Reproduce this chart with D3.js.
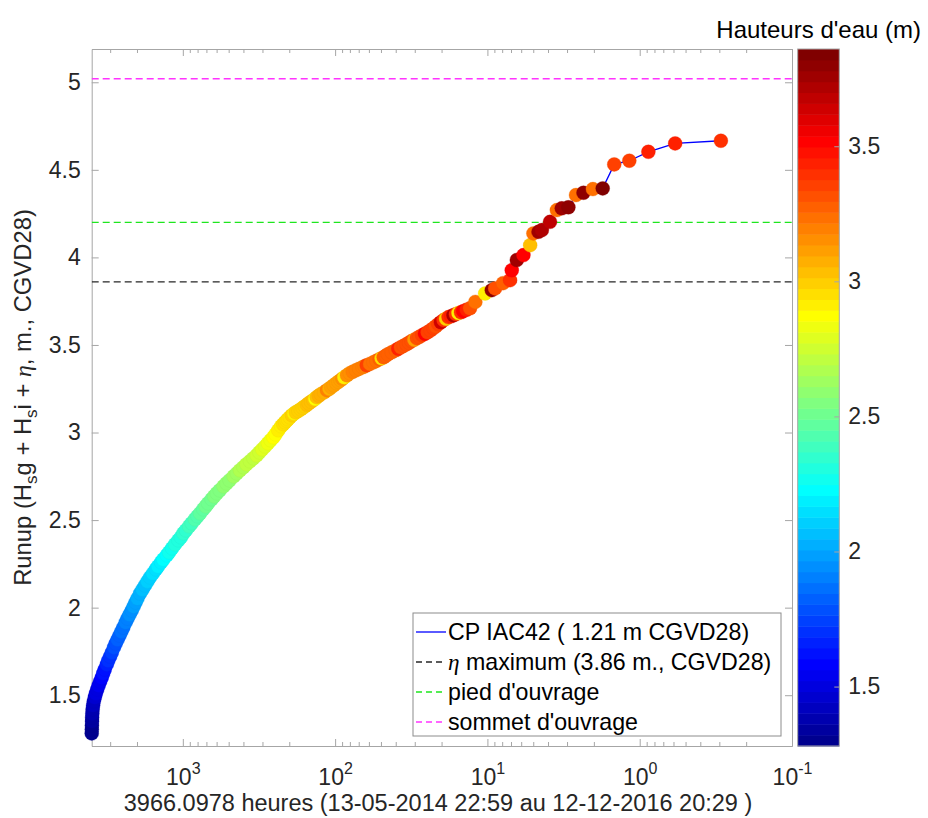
<!DOCTYPE html>
<html>
<head>
<meta charset="utf-8">
<script src="https://cdn.jsdelivr.net/npm/d3@7"></script>
<style>
  body { margin: 0; background: #fff; }
  svg { display: block; font-family: "Liberation Sans", Arial, sans-serif; }
</style>
</head>
<body>
<svg id="chart" width="928" height="818"></svg>
<script>
// hours of exceedance (x), runup (y) and water level (colour)
var hours = [3966, 3958, 3952, 3946, 3940, 3928, 3911, 3882, 3842, 3782,
  3725, 3647, 3571, 3487, 3405, 3330, 3256, 3157, 3087, 3001,
  2923, 2833, 2760, 2680, 2604, 2530, 2458, 2374, 2307, 2235,
  2165, 2103, 2044, 1983, 1910, 1839, 1771, 1706, 1642, 1571,
  1502, 1453, 1388, 1341, 1274, 1230, 1176, 1124, 1069, 1029,
  991, 954, 908, 875, 832, 801, 770, 734, 707, 682,
  647, 622, 598, 572, 540, 516, 493, 463, 442, 421,
  400, 382, 362, 344, 327, 314, 301, 288, 276, 265,
  254, 246, 236,
  226, 219, 213, 208, 204, 198, 192, 186, 181, 174,
  168, 163, 158, 153, 149, 144, 139, 135, 132, 128,
  124, 118, 113, 109, 106, 102, 98, 95, 92, 89.5,
  87, 83.5, 80, 76.5, 73, 69.5, 66, 64, 62, 59,
  56, 53.5, 51, 49.5, 48, 46.5, 45, 42.5, 40, 38.5,
  37, 35.5, 34, 32.7, 31.5, 30.2, 29, 27.9, 26.8, 25.7,
  24.7, 23.6, 22.6, 21.8, 21.0, 20.2, 19.4, 18.7, 18.0, 17.3,
  16.7, 16.1, 15.5, 14.9, 14.4, 13.7, 13.0,
  12.0, 10.35, 9.36, 8.90, 7.89, 7.10, 6.92, 6.41, 5.80, 5.24,
  4.99, 4.62, 4.39, 3.88, 3.50, 3.25, 2.94, 2.62, 2.34, 2.03,
  1.75, 1.47, 1.17, 0.877, 0.585, 0.293];

var runup = [1.282, 1.305, 1.328, 1.351, 1.373, 1.396, 1.419, 1.442, 1.465, 1.488,
  1.510, 1.533, 1.556, 1.579, 1.601, 1.625, 1.647, 1.676, 1.698, 1.721,
  1.744, 1.773, 1.795, 1.818, 1.841, 1.864, 1.887, 1.916, 1.938, 1.961,
  1.984, 2.007, 2.030, 2.053, 2.081, 2.104, 2.127, 2.150, 2.173, 2.196,
  2.219, 2.236, 2.259, 2.276, 2.299, 2.316, 2.339, 2.362, 2.385, 2.402,
  2.425, 2.442, 2.465, 2.482, 2.505, 2.522, 2.539, 2.562, 2.579, 2.596,
  2.619, 2.636, 2.653, 2.670, 2.693, 2.710, 2.727, 2.750, 2.767, 2.785,
  2.802, 2.819, 2.836, 2.853, 2.870, 2.887, 2.904, 2.921, 2.939, 2.956,
  2.973, 2.990, 3.013,
  3.036, 3.047, 3.059, 3.068, 3.076, 3.087, 3.099, 3.108, 3.116, 3.124,
  3.133, 3.141, 3.150, 3.158, 3.167, 3.176, 3.185, 3.193, 3.202, 3.210,
  3.219, 3.230, 3.242, 3.250, 3.259, 3.270, 3.282, 3.290, 3.299, 3.307,
  3.316, 3.327, 3.339, 3.347, 3.356, 3.364, 3.373, 3.378, 3.384, 3.392,
  3.401, 3.410, 3.419, 3.424, 3.430, 3.438, 3.447, 3.458, 3.470, 3.478,
  3.487, 3.495, 3.504, 3.513, 3.522, 3.530, 3.539, 3.547, 3.556, 3.564,
  3.573, 3.584, 3.596, 3.607, 3.619, 3.630, 3.642, 3.650, 3.659, 3.664,
  3.670, 3.676, 3.682, 3.687, 3.693, 3.701, 3.710,
  3.746, 3.794, 3.813, 3.823, 3.853, 3.870, 3.927, 3.985, 4.013, 4.070,
  4.137, 4.146, 4.156, 4.203, 4.270, 4.280, 4.286, 4.356, 4.369, 4.390,
  4.394, 4.531, 4.552, 4.603, 4.651, 4.666];

var level = [1.28, 1.30, 1.32, 1.34, 1.36, 1.38, 1.40, 1.42, 1.44, 1.47,
  1.49, 1.51, 1.54, 1.56, 1.59, 1.61, 1.64, 1.67, 1.69, 1.72,
  1.74, 1.77, 1.79, 1.81, 1.83, 1.85, 1.87, 1.90, 1.92, 1.94,
  1.96, 1.98, 2.00, 2.02, 2.04, 2.06, 2.08, 2.10, 2.12, 2.14,
  2.16, 2.18, 2.20, 2.21, 2.23, 2.25, 2.27, 2.29, 2.31, 2.32,
  2.34, 2.36, 2.38, 2.40, 2.42, 2.44, 2.45, 2.47, 2.49, 2.50,
  2.52, 2.53, 2.55, 2.56, 2.58, 2.59, 2.61, 2.63, 2.64, 2.66,
  2.68, 2.70, 2.71, 2.73, 2.75, 2.77, 2.79, 2.81, 2.83, 2.85,
  2.87, 2.89, 2.91,
  2.93, 2.94, 2.95, 2.96, 2.96, 2.97, 2.98, 2.90, 2.99, 3.00,
  3.00, 3.01, 3.01, 3.02, 3.03, 3.04, 3.04, 2.88, 3.05, 3.06,
  3.07, 3.08, 3.20, 3.09, 3.10, 3.11, 3.12, 3.13, 3.13, 3.14,
  2.92, 3.16, 3.17, 3.18, 3.19, 3.20, 3.21, 3.21, 3.35, 3.23,
  3.24, 3.25, 3.26, 2.95, 3.27, 3.27, 3.28, 3.28, 3.29, 3.45,
  3.30, 3.30, 3.31, 3.31, 3.32, 3.10, 3.33, 3.33, 3.34, 3.50,
  3.35, 3.35, 3.36, 3.30, 3.37, 3.62, 3.38, 3.00, 3.39, 3.45,
  3.70, 3.40, 2.90, 3.41, 3.50, 3.42, 3.30,
  3.25, 2.90, 3.80, 3.30, 3.28, 3.40, 3.50, 3.76, 3.50, 3.02,
  3.22, 3.74, 3.72, 3.66, 3.22, 3.76, 3.80, 3.22, 3.78, 3.24,
  3.86, 3.37, 3.37, 3.45, 3.42, 3.38];

var xDomain = [3966.0978, 0.1];
var yDomain = [1.21, 5.19];
var yTicks = [1.5, 2, 2.5, 3, 3.5, 4, 4.5, 5];
var xTickExp = [3, 2, 1, 0, -1];
var cbTicks = [1.5, 2, 2.5, 3, 3.5];

var etaMax = 3.86, piedOuvrage = 4.2, sommetOuvrage = 5.02;
var legendLabels = ["CP IAC42 ( 1.21 m CGVD28)", "\u03b7 maximum (3.86 m., CGVD28)",
  "pied d'ouvrage", "sommet d'ouvrage"];
var xLabel = "3966.0978 heures (13-05-2014 22:59 au 12-12-2016 20:29 )";
var cbTitle = "Hauteurs d'eau (m)";

var svg = d3.select("#chart");
var pLeft = 91.7, pRight = 792, pTop = 49, pBottom = 746;
var axisGrey = "#a6a6a6", textGrey = "#262626";

var x = d3.scaleLog().domain(xDomain).range([pLeft, pRight]);
var y = d3.scaleLinear().domain(yDomain).range([pBottom, pTop]);

// matlab jet(64)
function jet(m) {
  var n = Math.ceil(m / 4), u = [], k;
  for (k = 1; k <= n; k++) u.push(k / n);
  for (k = 1; k < n; k++) u.push(1);
  for (k = n; k >= 1; k--) u.push(k / n);
  var g0 = Math.ceil(n / 2) - (m % 4 === 1 ? 1 : 0);
  function pick(j) { return (j >= 1 && j <= u.length) ? u[j - 1] : 0; }
  var cols = [];
  for (var i = 1; i <= m; i++) {
    cols.push(d3.rgb(255 * pick(i - g0 - n), 255 * pick(i - g0), 255 * pick(i - g0 + n)).formatHex());
  }
  return cols;
}
var jetColors = jet(64);
var levelExtent = d3.extent(level);
var color = d3.scaleQuantize().domain(levelExtent).range(jetColors);

svg.append("rect").attr("width", 928).attr("height", 818).attr("fill", "#fff");

svg.append("defs").append("clipPath").attr("id", "clip")
  .append("rect").attr("x", pLeft).attr("y", pTop)
  .attr("width", pRight - pLeft).attr("height", pBottom - pTop);

// minor ticks for the log axis
var minor = [];
xTickExp.forEach(function (e) {
  for (var k = 2; k <= 9; k++) {
    var v = k * Math.pow(10, e);
    if (v < xDomain[0] && v > xDomain[1]) minor.push(v);
  }
});
var xMajor = xTickExp.map(function (e) { return Math.pow(10, e); });

function styleAxis(g) {
  g.select(".domain").attr("stroke", axisGrey);
  g.selectAll(".tick line").attr("stroke", axisGrey);
  g.selectAll(".tick text").attr("fill", textGrey).attr("font-size", 23)
    .attr("font-family", "Liberation Sans, Arial, sans-serif");
}

// bottom + top
var gx = svg.append("g").attr("transform", "translate(0," + pBottom + ")")
  .call(d3.axisBottom(x).tickValues(xMajor).tickSizeInner(-7).tickSizeOuter(0).tickFormat(function () { return ""; }))
  .call(styleAxis);
gx.selectAll(".tick").append("text")
  .attr("fill", textGrey).attr("text-anchor", "middle").attr("y", 39)
  .attr("font-size", 23)
  .each(function (d) {
    var t = d3.select(this);
    t.append("tspan").text("10");
    t.append("tspan").attr("dy", -11).attr("font-size", 16).text(Math.round(Math.log10(d)));
  });
svg.append("g").attr("transform", "translate(0," + pBottom + ")")
  .call(d3.axisBottom(x).tickValues(minor).tickSizeInner(-4).tickSizeOuter(0).tickFormat(function () { return ""; }))
  .call(styleAxis);
svg.append("g").attr("transform", "translate(0," + pTop + ")")
  .call(d3.axisTop(x).tickValues(xMajor).tickSizeInner(-7).tickSizeOuter(0).tickFormat(function () { return ""; }))
  .call(styleAxis);
svg.append("g").attr("transform", "translate(0," + pTop + ")")
  .call(d3.axisTop(x).tickValues(minor).tickSizeInner(-4).tickSizeOuter(0).tickFormat(function () { return ""; }))
  .call(styleAxis);

// left + right
svg.append("g").attr("transform", "translate(" + pLeft + ",0)")
  .call(d3.axisLeft(y).tickValues(yTicks).tickSizeInner(-7).tickSizeOuter(0).tickPadding(11).tickFormat(d3.format("")))
  .call(styleAxis);
svg.append("g").attr("transform", "translate(" + pRight + ",0)")
  .call(d3.axisRight(y).tickValues(yTicks).tickSizeInner(-7).tickSizeOuter(0).tickFormat(function () { return ""; }))
  .call(styleAxis);

// reference lines
var plotArea = svg.append("g").attr("clip-path", "url(#clip)");
var refs = [
  { v: etaMax, c: "#262626" },
  { v: piedOuvrage, c: "#1ee61e" },
  { v: sommetOuvrage, c: "#ff33ff" }
];
plotArea.selectAll("line.ref").data(refs).enter().append("line")
  .attr("class", "ref")
  .attr("x1", pLeft).attr("x2", pRight)
  .attr("y1", function (d) { return y(d.v); }).attr("y2", function (d) { return y(d.v); })
  .attr("stroke", function (d) { return d.c; }).attr("stroke-width", 1.3)
  .attr("stroke-dasharray", "7,4");

// curve + markers (markers are not clipped, as in the original)
var pts = hours.map(function (h, i) { return { h: h, r: runup[i], l: level[i] }; });
plotArea.append("path").datum(pts)
  .attr("fill", "none").attr("stroke", "#0000ff").attr("stroke-width", 1.3)
  .attr("d", d3.line().x(function (d) { return x(d.h); }).y(function (d) { return y(d.r); }));
svg.append("g").selectAll("circle").data(pts).enter().append("circle")
  .attr("cx", function (d) { return x(d.h); })
  .attr("cy", function (d) { return y(d.r); })
  .attr("r", 7)
  .attr("fill", function (d) { return color(d.l); })
  .attr("stroke", function (d) { return d3.rgb(color(d.l)).darker(0.2); })
  .attr("stroke-width", 0.6).attr("stroke-opacity", 0.5);

// axis labels
svg.append("text").attr("x", 438).attr("y", 811)
  .attr("text-anchor", "middle").attr("font-size", 23.5).attr("fill", textGrey).text(xLabel);

var yl = svg.append("text").attr("transform", "translate(31," + ((pTop + pBottom) / 2) + ") rotate(-90)")
  .attr("text-anchor", "middle").attr("font-size", 23.8).attr("fill", textGrey);
yl.append("tspan").text("Runup (H");
yl.append("tspan").attr("dy", 6).attr("font-size", 17).text("s");
yl.append("tspan").attr("dy", -6).text("g + H");
yl.append("tspan").attr("dy", 6).attr("font-size", 17).text("s");
yl.append("tspan").attr("dy", -6).text("i + ");
yl.append("tspan").attr("font-family", "Liberation Serif, serif").attr("font-style", "italic").text("\u03b7");
yl.append("tspan").text(", m., CGVD28)");

// legend
var lg = svg.append("g").attr("transform", "translate(413,613)");
lg.append("rect").attr("width", 368).attr("height", 123)
  .attr("fill", "#fff").attr("stroke", "#8c8c8c").attr("stroke-width", 1);
var legendStyles = [
  { c: "#0000ff", dash: null },
  { c: "#262626", dash: "6,4" },
  { c: "#1ee61e", dash: "6,4" },
  { c: "#ff33ff", dash: "6,4" }
];
var rows = lg.selectAll("g.row").data(legendLabels).enter().append("g")
  .attr("class", "row")
  .attr("transform", function (d, i) { return "translate(0," + (19 + i * 30) + ")"; });
rows.append("line").attr("x1", 3).attr("x2", 33)
  .attr("stroke", function (d, i) { return legendStyles[i].c; })
  .attr("stroke-width", 1.3)
  .attr("stroke-dasharray", function (d, i) { return legendStyles[i].dash; });
rows.append("text").attr("x", 35).attr("dy", "0.35em").attr("font-size", 23.2).attr("fill", "#000")
  .each(function (d) {
    var t = d3.select(this);
    if (d.charAt(0) === "\u03b7") {
      t.append("tspan").attr("font-family", "Liberation Serif, serif").attr("font-style", "italic").text("\u03b7");
      t.append("tspan").text(d.slice(1));
    } else {
      t.text(d);
    }
  });

// colorbar
var cbX = 797.7, cbW = 41.6;
var cbY = d3.scaleLinear().domain(levelExtent).range([pBottom, pTop]);
var step = (levelExtent[1] - levelExtent[0]) / jetColors.length;
svg.append("g").selectAll("rect").data(jetColors).enter().append("rect")
  .attr("x", cbX).attr("width", cbW)
  .attr("y", function (d, i) { return cbY(levelExtent[0] + (i + 1) * step); })
  .attr("height", function (d, i) { return cbY(levelExtent[0] + i * step) - cbY(levelExtent[0] + (i + 1) * step) + 0.5; })
  .attr("fill", function (d) { return d; });
svg.append("rect").attr("x", cbX).attr("y", pTop).attr("width", cbW).attr("height", pBottom - pTop)
  .attr("fill", "none").attr("stroke", axisGrey);
svg.append("g").attr("transform", "translate(" + (cbX + cbW) + ",0)")
  .call(d3.axisRight(cbY).tickValues(cbTicks).tickSizeInner(-5).tickSizeOuter(0).tickPadding(9).tickFormat(d3.format("")))
  .call(styleAxis)
  .call(function (g) { g.select(".domain").remove(); });
svg.append("text").attr("x", 921).attr("y", 38).attr("text-anchor", "end")
  .attr("font-size", 24).attr("fill", "#000").text(cbTitle);
</script>
</body>
</html>
